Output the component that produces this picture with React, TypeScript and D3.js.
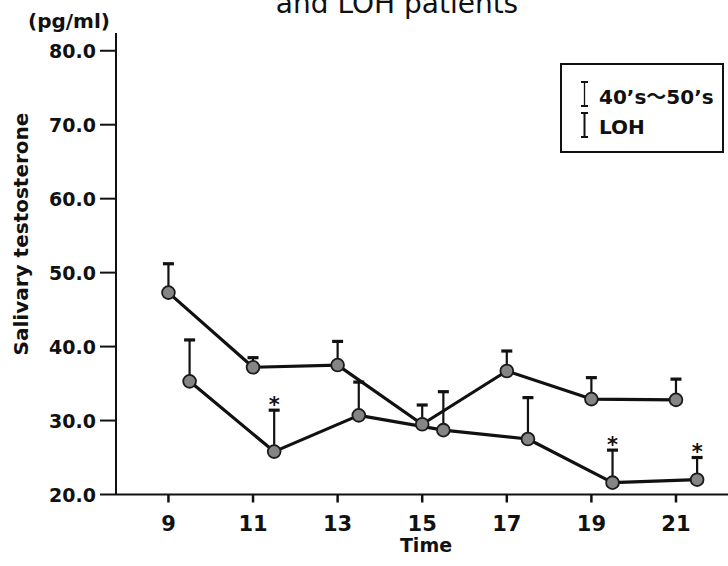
import React from "react";
import * as d3 from "d3";

const hours = [9, 11, 13, 15, 17, 19, 21];
const meanA = [47.3, 37.2, 37.5, 29.5, 36.7, 32.9, 32.8];
const upperA = [51.2, 38.5, 40.7, 32.1, 39.4, 35.8, 35.6];
const meanB = [35.3, 25.8, 30.7, 28.7, 27.5, 21.6, 22.0];
const upperB = [40.9, 31.4, 35.2, 33.9, 33.1, 26.0, 25.0];
const sigB = [false, true, false, false, false, true, true];
const xTicks = [9, 11, 13, 15, 17, 19, 21];
const yTicks = [20, 30, 40, 50, 60, 70, 80];
const legendPre = ["40\u2019s", "LOH"];
const legendPost = ["50\u2019s", ""];
const legendJoin = ["\u301C", ""];
const titleText = "and LOH patients";
const unitText = "(pg/ml)";
const yLabel = "Salivary testosterone";
const xLabel = "Time";

const W = 728;
const H = 566;
const DODGE = 0.5;
const FONT = "'DejaVu Sans', Verdana, sans-serif";
const CJK = "'Noto Sans CJK JP', 'DejaVu Sans', sans-serif";

export default function App() {
  const x = d3.scaleLinear().domain([7.76, 22.23]).range([116, 728]);
  const y = d3.scaleLinear().domain([20, 82.4]).range([494.5, 33]);

  const line = d3
    .line<[number, number]>()
    .x((d) => x(d[0]))
    .y((d) => y(d[1]));

  const seriesA = hours.map((h, i) => ({ h, m: meanA[i], u: upperA[i], sig: false }));
  const seriesB = hours.map((h, i) => ({ h: h + DODGE, m: meanB[i], u: upperB[i], sig: sigB[i] }));

  const errBars = (s: typeof seriesA, key: string) =>
    s.map((d, i) => (
      <g key={key + i}>
        <line x1={x(d.h)} x2={x(d.h)} y1={y(d.m)} y2={y(d.u)} stroke="#111" strokeWidth={2.2} />
        <line x1={x(d.h) - 5.5} x2={x(d.h) + 5.5} y1={y(d.u)} y2={y(d.u)} stroke="#111" strokeWidth={3.2} />
        {d.sig && (
          <text x={x(d.h)} y={y(d.u) + 1.5} textAnchor="middle" fontFamily={FONT} fontWeight="bold" fontSize={21} fill="#111">
            *
          </text>
        )}
      </g>
    ));

  const markers = (s: typeof seriesA, key: string) =>
    s.map((d, i) => (
      <circle key={key + i} cx={x(d.h)} cy={y(d.m)} r={6.4} fill="#858585" stroke="#1a1a1a" strokeWidth={1.8} />
    ));

  return (
    <svg
      width={W}
      height={H}
      style={{ position: "absolute", left: 0, top: 0, background: "#fff" }}
      xmlns="http://www.w3.org/2000/svg"
    >
      <rect x={0} y={0} width={W} height={H} fill="#fff" />
      <text x={397} y={12.5} textAnchor="middle" fontFamily={FONT} fontSize={28} fill="#111">
        {titleText}
      </text>
      <text x={28} y={28} fontFamily={FONT} fontWeight="bold" fontSize={20} fill="#111">
        {unitText}
      </text>

      {/* axes */}
      <line x1={116} x2={116} y1={y.range()[1]} y2={y(20)} stroke="#111" strokeWidth={2} />
      <line x1={116} x2={W} y1={y(20)} y2={y(20)} stroke="#111" strokeWidth={2.2} />
      {yTicks.map((t) => (
        <g key={"yt" + t}>
          <line x1={100} x2={116} y1={y(t)} y2={y(t)} stroke="#111" strokeWidth={2} />
          <text x={96} y={y(t) + 7} textAnchor="end" fontFamily={FONT} fontWeight="bold" fontSize={19} fill="#111">
            {t.toFixed(1)}
          </text>
        </g>
      ))}
      {xTicks.map((t) => (
        <g key={"xt" + t}>
          <line x1={x(t)} x2={x(t)} y1={y(20)} y2={y(20) + 8} stroke="#111" strokeWidth={2.5} />
          <text x={x(t)} y={531} textAnchor="middle" fontFamily={FONT} fontWeight="bold" fontSize={21} fill="#111">
            {t}
          </text>
        </g>
      ))}
      <text x={426} y={552} textAnchor="middle" fontFamily={FONT} fontWeight="bold" fontSize={19} fill="#111">
        {xLabel}
      </text>
      <text
        transform="translate(28,234) rotate(-90)"
        textAnchor="middle"
        fontFamily={FONT}
        fontWeight="bold"
        fontSize={20}
        fill="#111"
      >
        {yLabel}
      </text>

      {/* lines */}
      <path d={line(seriesA.map((d) => [d.h, d.m]))!} fill="none" stroke="#111" strokeWidth={3.2} strokeLinejoin="round" />
      <path d={line(seriesB.map((d) => [d.h, d.m]))!} fill="none" stroke="#111" strokeWidth={3.2} strokeLinejoin="round" />

      {errBars(seriesA, "ea")}
      {errBars(seriesB, "eb")}
      {markers(seriesA, "ma")}
      {markers(seriesB, "mb")}

      {/* legend */}
      <rect x={561} y={64} width={162} height={88} fill="#fff" stroke="#111" strokeWidth={2} />
      {legendPre.map((lab, i) => {
        const top = 82 + i * 31;
        const bot = top + 24;
        const sw = i === 0 ? 1.3 : 2;
        return (
          <g key={"lg" + i}>
            <line x1={584.5} x2={584.5} y1={top} y2={bot} stroke="#111" strokeWidth={sw} />
            <line x1={581} x2={588} y1={top} y2={top} stroke="#111" strokeWidth={2} />
            <line x1={581} x2={588} y1={bot} y2={bot} stroke="#111" strokeWidth={2} />
            <text x={599} y={103.5 + i * 30} fontFamily={FONT} fontWeight="bold" fontSize={20} fill="#111">
              {lab}
              {legendJoin[i] && (
                <tspan fontFamily={CJK} fontWeight="bold">
                  {legendJoin[i]}
                </tspan>
              )}
              {legendPost[i]}
            </text>
          </g>
        );
      })}
    </svg>
  );
}
